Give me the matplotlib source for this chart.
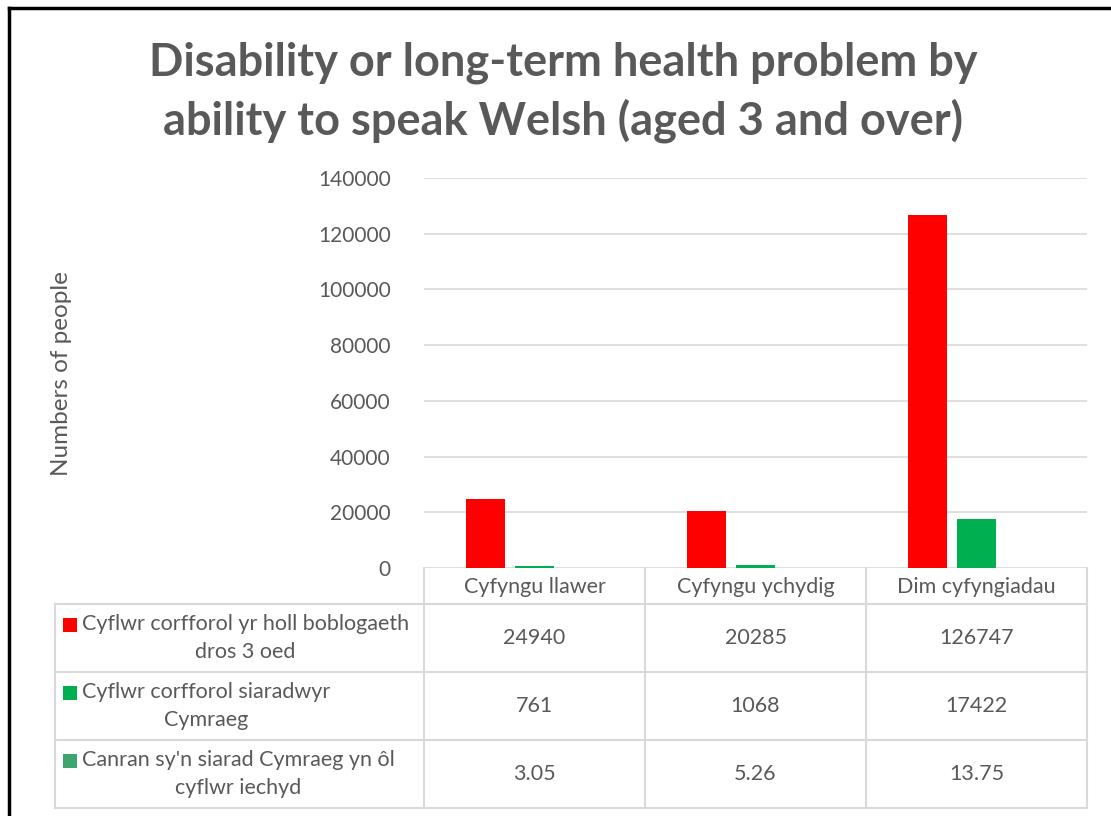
import matplotlib
matplotlib.use("Agg")
import matplotlib.pyplot as plt
import numpy as np
from matplotlib.patches import Rectangle
from matplotlib.lines import Line2D

categories = ["Cyfyngu llawer", "Cyfyngu ychydig", "Dim cyfyngiadau"]
series_names = ["Cyflwr corfforol yr holl boblogaeth\ndros 3 oed",
                "Cyflwr corfforol siaradwyr\nCymraeg",
                "Canran sy'n siarad Cymraeg yn ôl\ncyflwr iechyd"]
all_pop = [24940, 20285, 126747]
welsh = [761, 1068, 17422]
percent = [3.05, 5.26, 13.75]
table_text = [["24940", "20285", "126747"],
              ["761", "1068", "17422"],
              ["3.05", "5.26", "13.75"]]
colors = ["#FF0000", "#00B050", "#3CA66E"]
yticks = [0, 20000, 40000, 60000, 80000, 100000, 120000, 140000]

plt.rcParams['font.family'] = ['Lato', 'DejaVu Sans']
TXT = "#595959"
GRID = "#D9D9D9"

W, H = 1111, 816
fig = plt.figure(figsize=(W/100, H/100), dpi=100)

def fx(x): return x / W
def fy(y): return 1 - y / H

# outer border (top and left only visible)
fig.add_artist(Line2D([fx(9), fx(1111)], [fy(7.5), fy(7.5)], color="black", linewidth=2.5,
                      transform=fig.transFigure))
fig.add_artist(Line2D([fx(9), fx(9)], [fy(7.5), fy(816)], color="black", linewidth=2.5,
                      transform=fig.transFigure))

ax_l, ax_r, ax_t, ax_b = 424, 1087, 178, 568
ax = fig.add_axes([fx(ax_l), fy(ax_b), (ax_r-ax_l)/W, (ax_b-ax_t)/H])
x = np.arange(len(categories))
bw = 39/221
step = 49/221
for i, (vals, c) in enumerate(zip([all_pop, welsh, percent], colors)):
    ax.bar(x + (i-1)*step, vals, width=bw, color=c, zorder=3)
ax.set_xlim(-0.5, 2.5)
ax.set_ylim(0, 140000)
ax.set_yticks(yticks)
ax.set_yticklabels([str(t) for t in yticks], fontsize=15, color=TXT)
ax.tick_params(axis='y', length=0, pad=24)
ax.set_xticks([])
ax.grid(axis='y', color=GRID, linewidth=1.2, zorder=0)
for s in ax.spines.values():
    s.set_visible(False)

# title
fig.text(fx(563), fy(63), "Disability or long-term health problem by", ha='center', va='center',
         fontsize=32.5, fontweight='bold', color=TXT)
fig.text(fx(563), fy(121), "ability to speak Welsh (aged 3 and over)", ha='center', va='center',
         fontsize=32.5, fontweight='bold', color=TXT)

fig.text(fx(61), fy(374), "Numbers of people", rotation=90, ha='center', va='center',
         fontsize=17.5, color=TXT)

# data table
col_x = [424, 645, 866, 1087]
row_y = [568, 604, 672, 740, 808]
lab_l = 55
def hline(y, x0, x1):
    fig.add_artist(Line2D([fx(x0), fx(x1)], [fy(y), fy(y)], color=GRID, linewidth=1.5,
                          transform=fig.transFigure))
def vline(x0, y0, y1):
    fig.add_artist(Line2D([fx(x0), fx(x0)], [fy(y0), fy(y1)], color=GRID, linewidth=1.5,
                          transform=fig.transFigure))
hline(604, lab_l, 1087)
hline(672, lab_l, 1087)
hline(740, lab_l, 1087)
hline(808, lab_l, 1087)
vline(lab_l, 604, 808)
for cx in col_x:
    vline(cx, 568, 808)
for j, cat in enumerate(categories):
    fig.text(fx((col_x[j]+col_x[j+1])/2), fy(587), cat, ha='center', va='center',
             fontsize=15.5, color=TXT)
for i in range(3):
    yc = (row_y[i+1] + row_y[i+2]) / 2
    fig.text(fx(82), fy(yc), series_names[i], ha='left', va='center', fontsize=15.5,
             color=TXT, multialignment='center', linespacing=1.45)
    y1 = row_y[i+1] + 21
    fig.add_artist(Rectangle((fx(63), fy(y1 + 7)), 14/W, 14/H, transform=fig.transFigure,
                             facecolor=colors[i], edgecolor='none'))
    for j in range(3):
        fig.text(fx((col_x[j]+col_x[j+1])/2), fy(yc), table_text[i][j], ha='center',
                 va='center', fontsize=15.5, color=TXT)

fig.savefig("out.png", dpi=100)
